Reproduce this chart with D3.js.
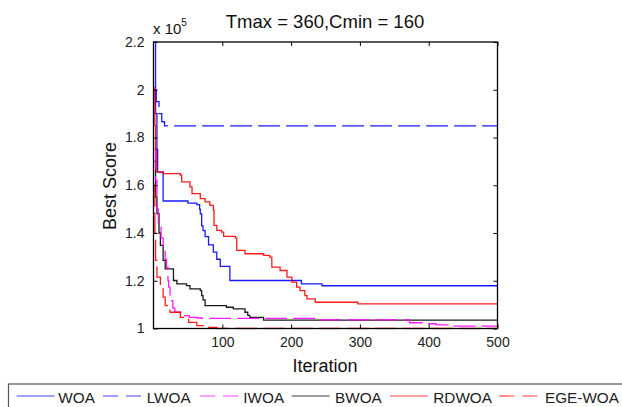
<!DOCTYPE html>
<html><head><meta charset="utf-8">
<script src="https://cdn.jsdelivr.net/npm/d3@7"></script>
<style>body{margin:0;background:#fff;}svg{display:block;font-family:"Liberation Sans",Arial,sans-serif;}</style>
</head><body><svg id="c" width="622" height="407"></svg>
<script>
const title = "Tmax = 360,Cmin = 160";
const xTicks = [100, 200, 300, 400, 500];
const yTicks = [1, 1.2, 1.4, 1.6, 1.8, 2, 2.2];
const yTickLabels = ["1", "1.2", "1.4", "1.6", "1.8", "2", "2.2"];
const seriesNames = ["WOA", "LWOA", "IWOA", "BWOA", "RDWOA", "EGE-WOA"];
const seriesColors = ["#0000ff", "#0000ff", "#ff00ff", "#000000", "#ff0000", "#ff0000"];
const seriesDashed = [false, true, true, false, false, true];
// [iteration, best score / 1e5]
const WOA = [[1,2.2],[3,1.9],[5,1.75],[6,1.655],[14,1.534],[46,1.534],[50,1.525],[63,1.519],[67,1.50],[68,1.48],[70,1.43],[72,1.41],[75,1.385],[80,1.35],[87,1.32],[92,1.29],[97,1.26],[107,1.26],[111,1.201],[215,1.187],[245,1.179],[500,1.179]];
const LWOA = [[1,2.0],[4,1.95],[8,1.9],[12,1.866],[16,1.849],[500,1.849]];
const IWOA = [[1,1.75],[3,1.62],[5,1.5],[7,1.425],[11,1.38],[14,1.341],[17,1.29],[19,1.257],[21,1.2],[22,1.173],[24,1.117],[28,1.085],[31,1.068],[41,1.054],[52,1.047],[63,1.044],[70,1.042],[237,1.036],[372,1.024],[392,1.02],[411,1.015],[435,1.01],[500,1.01]];
const BWOA = [[1,1.7],[3,1.55],[5,1.481],[8,1.4],[10,1.348],[14,1.285],[17,1.25],[27,1.25],[29,1.201],[34,1.187],[48,1.18],[53,1.166],[68,1.159],[70,1.138],[72,1.12],[75,1.096],[92,1.096],[106,1.089],[116,1.082],[133,1.068],[137,1.055],[140,1.047],[160,1.035],[500,1.035]];
const RDWOA = [[1,2.01],[2,1.85],[3,1.75],[4,1.663],[5,1.656],[14,1.649],[39,1.642],[41,1.614],[53,1.593],[56,1.565],[68,1.544],[75,1.53],[82,1.516],[87,1.495],[88,1.432],[92,1.411],[99,1.404],[102,1.386],[119,1.38],[121,1.327],[133,1.313],[160,1.306],[169,1.299],[172,1.257],[184,1.243],[194,1.215],[201,1.194],[208,1.173],[213,1.159],[220,1.138],[223,1.124],[235,1.11],[297,1.103],[500,1.103]];
const EGEWOA = [[1,1.6],[2,1.4],[3,1.285],[5,1.215],[10,1.173],[14,1.131],[17,1.096],[24,1.068],[39,1.047],[51,1.026],[63,1.012],[77,1.005],[92,1.0],[500,1.0]];
const allSeries = [WOA, LWOA, IWOA, BWOA, RDWOA, EGEWOA];
const drawOrder = [0, 1, 3, 2, 4, 5];

const svg = d3.select("#c");
const L = 153.5, R = 497.5, T = 42, B = 328.5;
const x = d3.scaleLinear().domain([0, 500]).range([L, R]);
const y = d3.scaleLinear().domain([1, 2.2]).range([B, T]);

svg.append("rect").attr("x", L).attr("y", T).attr("width", R - L).attr("height", B - T).attr("fill", "#fff");

svg.append("clipPath").attr("id", "pc").append("rect")
  .attr("x", L).attr("y", T - 1).attr("width", R - L + 1).attr("height", B - T + 2);

const line = d3.line().x(d => x(d[0])).y(d => y(d[1])).curve(d3.curveStepAfter);
const g = svg.append("g").attr("clip-path", "url(#pc)");
drawOrder.forEach(i => {
  g.append("path").datum(allSeries[i]).attr("d", line).attr("fill", "none")
    .attr("stroke", seriesColors[i]).attr("stroke-width", 1.3).attr("stroke-opacity", 0.9)
    .attr("stroke-dasharray", seriesDashed[i] ? "22,6" : null);
});

// axes
const fs = 14;
function styleAxis(sel) {
  sel.selectAll(".domain").remove();
  sel.selectAll("line").attr("stroke", "#000");
  sel.selectAll("text").attr("font-size", fs).attr("fill", "#222").attr("font-family", "Liberation Sans, Arial, sans-serif");
}
svg.append("g").attr("transform", `translate(0,${B})`)
  .call(d3.axisBottom(x).tickValues(xTicks).tickSize(-4).tickPadding(9).tickFormat(d3.format("d")))
  .call(styleAxis);
svg.append("g").attr("transform", `translate(0,${T})`)
  .call(d3.axisTop(x).tickValues(xTicks).tickSize(-4).tickFormat(""))
  .call(styleAxis);
svg.append("g").attr("transform", `translate(${L},0)`)
  .call(d3.axisLeft(y).tickValues(yTicks).tickSize(-4).tickPadding(9).tickFormat((d, i) => yTickLabels[i]))
  .call(styleAxis);
svg.append("g").attr("transform", `translate(${R},0)`)
  .call(d3.axisRight(y).tickValues(yTicks).tickSize(-4).tickFormat(""))
  .call(styleAxis);

svg.append("rect").attr("x", L).attr("y", T).attr("width", R - L).attr("height", B - T)
  .attr("fill", "none").attr("stroke", "#000").attr("stroke-width", 1.3);

// texts
svg.append("text").attr("x", 325).attr("y", 28).attr("text-anchor", "middle")
  .attr("font-size", 18.5).attr("fill", "#111").text(title);
const ex = svg.append("text").attr("x", 153).attr("y", 34).attr("font-size", 15).attr("fill", "#111");
ex.append("tspan").text("x 10");
ex.append("tspan").attr("dy", -8).attr("font-size", 10).text("5");
svg.append("text").attr("x", 325).attr("y", 372).attr("text-anchor", "middle")
  .attr("font-size", 18).attr("fill", "#111").text("Iteration");
svg.append("text").attr("transform", "translate(116,186) rotate(-90)").attr("text-anchor", "middle")
  .attr("font-size", 18).attr("fill", "#111").text("Best Score");

// legend
const lg = svg.append("g");
lg.append("rect").attr("x", 8.5).attr("y", 384).attr("width", 640).attr("height", 40)
  .attr("fill", "#fff").attr("stroke", "#555").attr("stroke-width", 1.2);
const legLineX = [16.7, 103, 200, 291.7, 390, 499.3];
const legTextX = [58.3, 146.7, 243.3, 335, 433.3, 545];
seriesNames.forEach((n, i) => {
  lg.append("line").attr("x1", legLineX[i]).attr("x2", legLineX[i] + 38).attr("y1", 396).attr("y2", 396)
    .attr("stroke", seriesColors[i]).attr("stroke-width", 1.2).attr("stroke-opacity", 0.75)
    .attr("stroke-dasharray", seriesDashed[i] ? "15,8" : null);
  lg.append("text").attr("x", legTextX[i]).attr("y", 403).attr("font-size", 15.3).attr("fill", "#222").text(n);
});
</script></body></html>
